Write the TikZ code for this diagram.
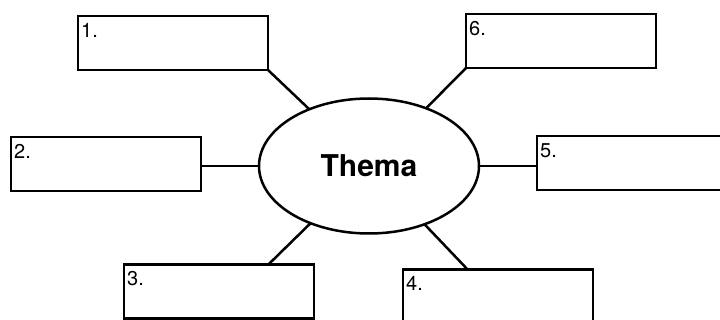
\documentclass[tikz,border=0pt]{standalone}
\usepackage{fontspec}
\setmainfont{TeX Gyre Heros}
\usetikzlibrary{calc,shapes.geometric}

\begin{document}
\begin{tikzpicture}[x=1pt, y=-1pt,
		field/.style={draw, line width=2.5pt, minimum width=190pt, minimum height=54pt, inner sep=0pt, outer sep=0pt},
		nr/.style={anchor=north west, inner sep=0pt, xshift=3pt, yshift=-7pt, font=\fontsize{20}{24}\selectfont},
		topic/.style={draw, ellipse, line width=2.5pt, minimum width=220pt, minimum height=135pt, inner sep=0pt, outer sep=0pt, font=\bfseries\fontsize{30}{36}\selectfont},
		spoke/.style={line width=2.5pt}]
			%%%%% START %%%%%
			
			\useasboundingbox (0, 0) rectangle (720, 320);
			\clip (0, 0) rectangle (720, 320);
			
			\node[topic] (thema) at (369, 166) {Thema};
			
			\node[field] (f1) at (173, 43) {};
			\node[field] (f2) at (106, 164) {};
			\node[field] (f3) at (219, 291.5) {};
			\node[field] (f4) at (498, 296.5) {};
			\node[field] (f5) at (632, 163) {};
			\node[field] (f6) at (561, 41) {};
			
			\node[nr] (n1) at (f1.north west) {1.};
			\node[nr] (n2) at (f2.north west) {2.};
			\node[nr] (n3) at (f3.north west) {3.};
			\node[nr] (n4) at (f4.north west) {4.};
			\node[nr] (n5) at (f5.north west) {5.};
			\node[nr] (n6) at (f6.north west) {6.};
			
			\coordinate (f3top) at ($(f3.north west)!0.76!(f3.north east)$);
			\coordinate (f4top) at ($(f4.north west)!0.34!(f4.north east)$);
			
			\draw[spoke] (f1.south east) -- (thema);
			\draw[spoke] (thema.west) -- (thema.west -| f2.east);
			\draw[spoke] (f3top) -- (thema);
			\draw[spoke] (f4top) -- (thema);
			\draw[spoke] (thema.east) -- (thema.east -| f5.west);
			\draw[spoke] (f6.south west) -- (thema);
			
			%%%%% END %%%%%
\end{tikzpicture}
\end{document}
